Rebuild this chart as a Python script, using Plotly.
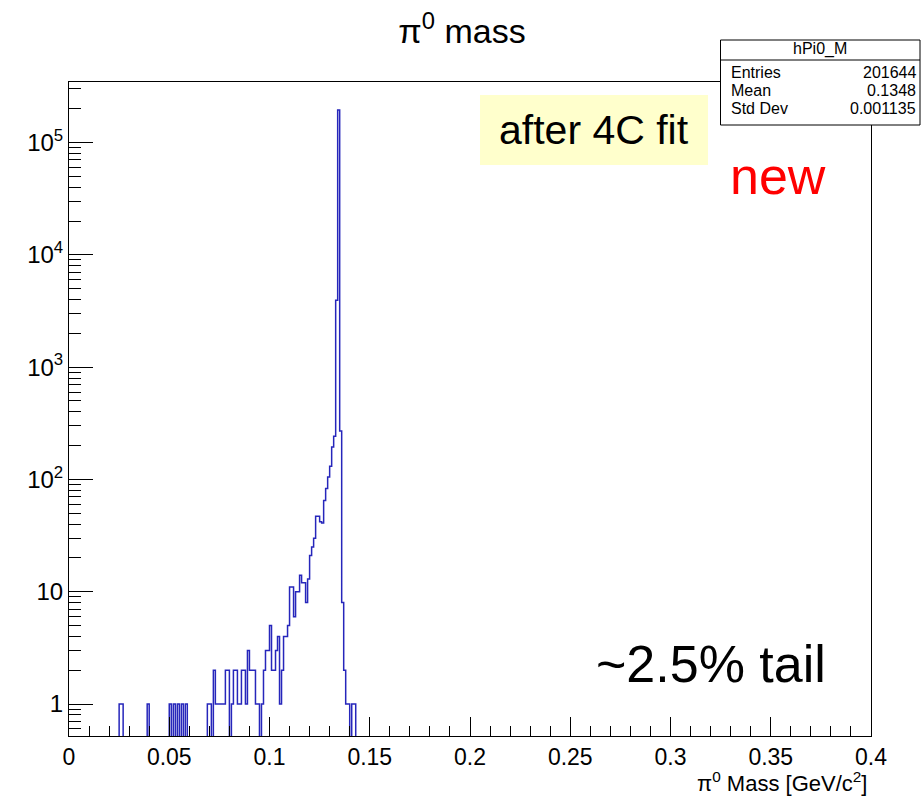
import numpy as np
import plotly.graph_objects as go

# ---------------- data ----------------
bin_width = 0.001          # GeV/c^2
x_lo, x_hi = 0.0, 0.4
# lower edges of the non-empty bins and their contents
bin_lo = [0.025, 0.026, 0.039, 0.050, 0.052, 0.054, 0.056, 0.058,
          0.069, 0.070, 0.072, 0.073, 0.074, 0.075, 0.076, 0.077, 0.078, 0.079,
          0.081, 0.082, 0.083, 0.084, 0.085, 0.086, 0.087, 0.088, 0.089, 0.090,
          0.091, 0.092, 0.093, 0.094, 0.096, 0.097, 0.098, 0.099, 0.100, 0.101,
          0.102, 0.103, 0.104, 0.105, 0.106, 0.107, 0.108, 0.109, 0.110, 0.111,
          0.112, 0.113, 0.114, 0.115, 0.116, 0.117, 0.118, 0.119, 0.120, 0.121,
          0.122, 0.123, 0.124, 0.125, 0.126, 0.127, 0.128, 0.129, 0.130, 0.131,
          0.132, 0.133, 0.134, 0.135, 0.136, 0.137, 0.138, 0.139, 0.141, 0.142]
bin_n = [1, 1, 1, 1, 1, 1, 1, 1,
         1, 1, 2, 1, 1, 1, 1, 1, 2, 2,
         1, 2, 2, 1, 1, 2, 2, 1, 3, 2,
         2, 2, 1, 1, 1, 2, 3, 3, 5, 2,
         2, 3, 4, 1, 2, 4, 4, 5, 11, 11,
         6, 10, 10, 14, 12, 12, 8, 13, 21, 25,
         30, 47, 47, 42, 41, 65, 83, 105, 131, 194,
         242, 3950, 195000, 270, 8, 2, 1, 1, 1, 1]

hist_name = "hPi0_M"
stats_labels = ["Entries", "Mean", "Std Dev"]
stats_values = ["201644", "0.1348", "0.001135"]

y_tick_vals = [1, 10, 100, 1000, 10000, 100000]
y_tick_text = ["1", "10", "10<sup>2</sup>", "10<sup>3</sup>", "10<sup>4</sup>", "10<sup>5</sup>"]
y_minor_vals = [m * d for d in [1, 10, 100, 1000, 10000, 100000] for m in range(2, 10)] + [0.6, 0.7, 0.8, 0.9]
y_range_vals = (0.519, 3.46e5)

# ---------------- build histogram ----------------
nbins = int(round((x_hi - x_lo) / bin_width))
edges = x_lo + np.arange(nbins + 1) * bin_width
counts = np.zeros(nbins)
for lo, n in zip(bin_lo, bin_n):
    counts[int(round((lo - x_lo) / bin_width))] = n
floor = y_range_vals[0] * 0.5          # empty bins drawn down to below the frame
y_draw = np.where(counts > 0, counts, floor)
y_draw = np.append(y_draw, y_draw[-1])

W, H = 924, 798
L, R, T, B = 69, 871, 82, 736
FONT = "Liberation Sans, Arial, Helvetica, sans-serif"

def px(x):
    return (x - L) / (R - L)

def py(y):
    return (B - y) / (B - T)

fig = go.Figure()
fig.add_trace(go.Scatter(
    x=edges, y=y_draw, mode="lines", line_shape="hv",
    line=dict(color="#2626bb", width=1.5), hoverinfo="skip", showlegend=False))

fig.update_layout(
    width=W, height=H,
    margin=dict(l=L, r=W - R, t=T, b=H - B),
    paper_bgcolor="white", plot_bgcolor="white",
    font=dict(family=FONT, color="black"),
    title=dict(text="π<sup>0</sup> mass", x=0.5, xref="container", xanchor="center",
               y=1 - 31 / H, yref="container", yanchor="middle",
               font=dict(size=34, family=FONT, color="black")),
    showlegend=False,
)

fig.update_xaxes(
    range=[x_lo, x_hi], showgrid=False, zeroline=False,
    showline=True, linecolor="black", linewidth=1, mirror=True,
    ticks="inside", ticklen=19, tickwidth=1, tickcolor="black",
    tick0=0, dtick=0.05, tickformat="~g",
    tickfont=dict(size=23, family=FONT, color="black"),
    minor=dict(ticks="inside", ticklen=10, tickwidth=1, tickcolor="black", dtick=0.01, tick0=0),
)
fig.update_yaxes(
    type="log", range=[np.log10(y_range_vals[0]), np.log10(y_range_vals[1])],
    showgrid=False, zeroline=False,
    showline=True, linecolor="black", linewidth=1, mirror=True,
    ticks="inside", ticklen=24, tickwidth=1, tickcolor="black",
    tickmode="array", tickvals=y_tick_vals, ticktext=y_tick_text,
    tickfont=dict(size=24, family=FONT, color="black"),
    ticklabelstandoff=0,
    minor=dict(ticks="inside", ticklen=12, tickwidth=1, tickcolor="black",
               tickmode="array", tickvals=y_minor_vals),
)

# x-axis title (right aligned like ROOT)
fig.add_annotation(text="π<sup>0</sup> Mass [GeV/c<sup>2</sup>]", xref="paper", yref="paper",
                   x=px(869), y=py(798), xanchor="right", yanchor="bottom", showarrow=False,
                   font=dict(size=22, family=FONT, color="black"))

# yellow label box
fig.add_shape(type="rect", xref="paper", yref="paper", x0=px(480), x1=px(708), y0=py(165), y1=py(95),
              fillcolor="#ffffcc", line=dict(width=0), layer="above")
fig.add_annotation(text="after 4C fit", xref="paper", yref="paper", x=px(594), y=py(130),
                   xanchor="center", yanchor="middle", showarrow=False,
                   font=dict(size=41, family=FONT, color="black"))

fig.add_annotation(text="new", xref="paper", yref="paper", x=px(778), y=py(176),
                   xanchor="center", yanchor="middle", showarrow=False,
                   font=dict(size=52, family=FONT, color="#ff0000"))
fig.add_annotation(text="~2.5% tail", xref="paper", yref="paper", x=px(828), y=py(664),
                   xanchor="right", yanchor="middle", showarrow=False,
                   font=dict(size=52, family=FONT, color="black"))

# stats box
sx0, sx1, sy0, sy1, ssep = 720.5, 920, 40, 125, 60
fig.add_shape(type="rect", xref="paper", yref="paper", x0=px(sx0), x1=px(sx1), y0=py(sy1), y1=py(sy0),
              fillcolor="white", line=dict(color="black", width=1), layer="above")
fig.add_shape(type="line", xref="paper", yref="paper", x0=px(sx0), x1=px(sx1), y0=py(ssep), y1=py(ssep),
              line=dict(color="black", width=1), layer="above")
fig.add_annotation(text=hist_name, xref="paper", yref="paper", x=px((sx0 + sx1) / 2), y=py(49),
                   xanchor="center", yanchor="middle", showarrow=False,
                   font=dict(size=16, family=FONT, color="black"))
for i, (lab, val) in enumerate(zip(stats_labels, stats_values)):
    yy = 72 + i * 18.5
    fig.add_annotation(text=lab, xref="paper", yref="paper", x=px(729), y=py(yy),
                       xanchor="left", yanchor="middle", showarrow=False,
                       font=dict(size=16, family=FONT, color="black"))
    fig.add_annotation(text=val, xref="paper", yref="paper", x=px(918), y=py(yy),
                       xanchor="right", yanchor="middle", showarrow=False,
                       font=dict(size=16, family=FONT, color="black"))

fig.write_html("out.html")
